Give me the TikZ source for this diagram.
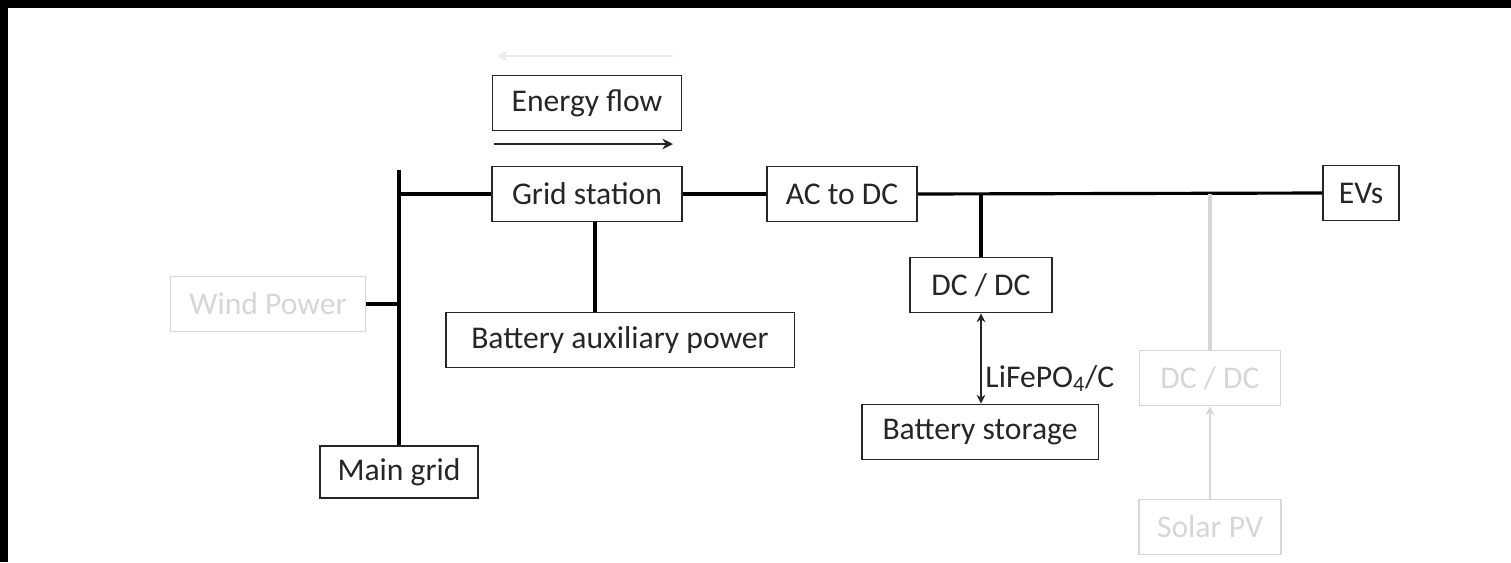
\documentclass[tikz,border=0pt]{standalone}
\usepackage{fontspec}
\setmainfont{Carlito}
\usetikzlibrary{arrows.meta, positioning, calc}

\definecolor{ink}{gray}{0.15}
\definecolor{faded}{gray}{0.84}
\definecolor{ghost}{gray}{0.92}

\begin{document}
\begin{tikzpicture}[
  x=0.02cm, y=-0.02cm,
  >=Stealth,
  every node/.style={font=\fontsize{18}{21}\selectfont},
  unit/.style={
    draw=ink, line width=1.1pt, text=ink,
    minimum height=1.1cm, inner sep=0pt
  },
  offunit/.style={
    draw=faded, line width=1.1pt, text=faded,
    minimum height=1.1cm, inner sep=0pt
  },
  link/.style={line width=1.8pt, black},
  bus/.style={line width=2.2pt, black},
  dbl/.style={{Stealth[length=5pt,width=5pt]}-{Stealth[length=5pt,width=5pt]}, line width=1.1pt, ink},
  flow/.style={-{Stealth[length=6pt,width=6pt]}, line width=1.1pt},
  faint/.style={line width=2.2pt, faded},
]

%% ── Frame ─────────────────────────────────────────────────────────────────
\useasboundingbox (0,0) rectangle (1511,562);
\fill[black] (0,0) rectangle (1511,8);
\fill[black] (0,0) rectangle (8,562);

%% ── Legend ────────────────────────────────────────────────────────────────
\node[unit, minimum width=3.78cm] (legend) at (587,103) {Energy flow};
\coordinate (revA) at (673,56);
\coordinate (revB) at (497,56);
\draw[flow, ghost] (revA) -- (revB);
\coordinate (fwdA) at (494,144);
\coordinate (fwdB) at (673,144);
\draw[flow, ink] (fwdA) -- (fwdB);

%% ── AC side ───────────────────────────────────────────────────────────────
\node[unit, minimum width=3.8cm]   (grid)  at (587,194)  {Grid station};
\node[unit, minimum width=6.98cm]  (aux)   at (620,340)  {Battery auxiliary power};
\node[unit, minimum width=3.16cm, minimum height=1.04cm] (maingrid) at (399,472) {Main grid};
\node[offunit, minimum width=3.9cm] (wind) at (268,304)  {Wind Power};
\coordinate (busTop) at (399,170);

%% ── DC side ───────────────────────────────────────────────────────────────
\node[unit, minimum width=3cm]     (acdc)  at (842,194)  {AC to DC};
\node[unit, minimum width=1.52cm]  (evs)   at (1361,193) {EVs};
\node[unit, minimum width=2.84cm]  (dcdc)  at (981,285)  {DC / DC};
\node[unit, minimum width=4.74cm]  (store) at (980,432)  {Battery storage};
\node[offunit, minimum width=2.82cm] (pvdc)  at (1210,378) {DC / DC};
\node[offunit, minimum width=2.84cm] (solar) at (1210,527) {Solar PV};

%% ── Connections ───────────────────────────────────────────────────────────
\draw[bus]  (maingrid.north) -- (maingrid.north |- busTop);
\draw[link] (wind.east) -- (wind.east -| busTop);
\draw[link] (grid.west) -- (grid.west -| busTop);
\draw[link] ([xshift=0.16cm]grid.south) -- ([xshift=0.16cm]grid.south |- aux.north);
\draw[link] (grid.east) -- (acdc.west);
\draw[link] (acdc.east) -- (evs.west);
\draw[faint] (pvdc.north) -- (pvdc.north |- acdc.east);
\draw[link] (dcdc.north) -- (dcdc.north |- acdc.east);
\draw[dbl]  (dcdc.south) -- node[pos=0.72, right, inner sep=2pt, text=ink] {LiFePO\textsubscript{4}/C} (dcdc.south |- store.north);
\draw[faint, line width=1.6pt, -{Stealth[length=5pt,width=5pt]}] (solar.north) -- (pvdc.south);

\end{tikzpicture}
\end{document}
